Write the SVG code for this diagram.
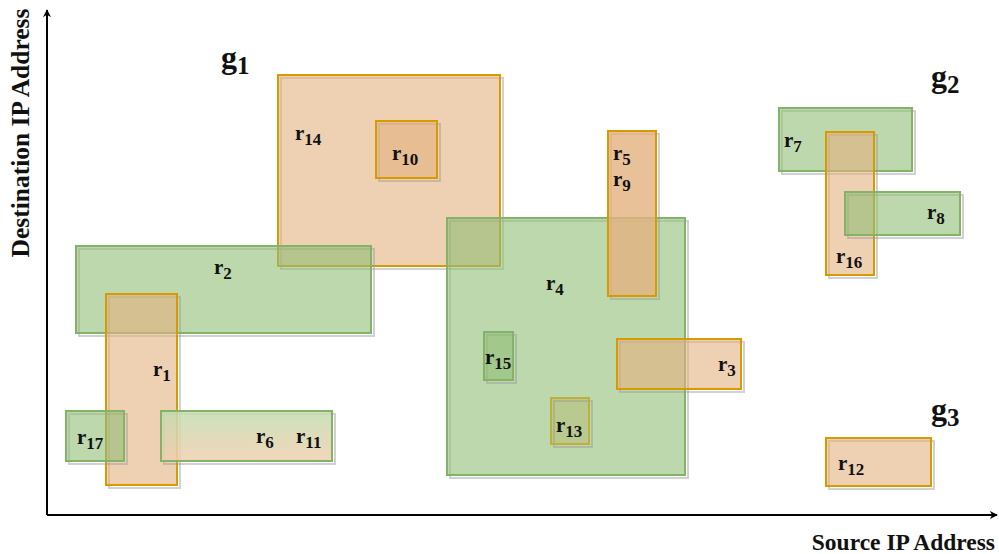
<svg xmlns="http://www.w3.org/2000/svg" width="999" height="554" viewBox="0 0 999 554">
<style>
text{font-family:"Liberation Serif","Times New Roman",serif;font-weight:bold;fill:#111}
.lbl{font-size:21px}
.sub{font-size:17px}
.g{font-size:32px}
.gs{font-size:25px}
.gr{fill:#91be75;fill-opacity:0.6;stroke:#82b366;stroke-width:2}
.or{fill:#e3b17f;fill-opacity:0.6;stroke:#d79b00;stroke-width:2}
.sh{fill:none;stroke:#999;stroke-opacity:0.45;stroke-width:2;transform:translate(3px,3px)}
.axis{stroke:#000;stroke-width:2;fill:none}
</style>
<defs>
<linearGradient id="gro" x1="0" y1="0" x2="0" y2="1">
<stop offset="0" stop-color="#c3dcb0"/>
<stop offset="1" stop-color="#f0cfae"/>
</linearGradient>
<marker id="ah" viewBox="0 0 10 10" refX="9" refY="5" markerWidth="8" markerHeight="8" markerUnits="userSpaceOnUse" orient="auto">
<path d="M0,0 L10,5 L0,10 L3,5 Z" fill="#000"/>
</marker>
</defs>
<g id="axes">
<line class="axis" x1="47" y1="515" x2="47" y2="10" marker-end="url(#ah)"/>
<line class="axis" x1="47" y1="515" x2="997" y2="515" marker-end="url(#ah)"/>
<text transform="translate(29,133) rotate(-90)" text-anchor="middle" font-size="25.5">Destination IP Address</text>
<text x="995" y="550" text-anchor="end" font-size="23.5">Source IP Address</text>
</g>
<g id="r14"><rect class="sh" x="278" y="75" width="222" height="191"/><rect class="or" x="278" y="75" width="222" height="191"/><text class="lbl" x="295" y="140">r<tspan class="sub" dy="5">14</tspan></text></g>
<g id="r10"><rect class="sh" x="376" y="121" width="61" height="57"/><rect class="or" x="376" y="121" width="61" height="57"/><text class="lbl" x="392" y="160">r<tspan class="sub" dy="5">10</tspan></text></g>
<g id="r2"><rect class="sh" x="76" y="246" width="295" height="87"/><rect class="gr" x="76" y="246" width="295" height="87"/><text class="lbl" x="214" y="274">r<tspan class="sub" dy="5">2</tspan></text></g>
<g id="r4"><rect class="sh" x="447" y="218" width="238" height="257"/><rect class="gr" x="447" y="218" width="238" height="257"/><text class="lbl" x="546" y="290">r<tspan class="sub" dy="5">4</tspan></text></g>
<g id="r5"><rect class="sh" x="608" y="131" width="48" height="165"/><rect class="or" x="608" y="131" width="48" height="165" style="fill-opacity:0.8"/><text class="lbl" x="613" y="160">r<tspan class="sub" dy="5">5</tspan></text></g>
<g id="r9"><text class="lbl" x="613" y="186">r<tspan class="sub" dy="5">9</tspan></text></g>
<g id="r1"><rect class="sh" x="106" y="294" width="71" height="191"/><rect class="or" x="106" y="294" width="71" height="191"/><text class="lbl" x="153" y="376">r<tspan class="sub" dy="5">1</tspan></text></g>
<g id="r17"><rect class="sh" x="66" y="411" width="58" height="50"/><rect class="gr" x="66" y="411" width="58" height="50"/><text class="lbl" x="77" y="444">r<tspan class="sub" dy="5">17</tspan></text></g>
<g id="r6"><rect class="sh" x="161" y="411" width="171" height="50"/><rect x="161" y="411" width="171" height="50" fill="url(#gro)" fill-opacity="0.85" stroke="#82b366" stroke-width="2"/><text class="lbl" x="256" y="443">r<tspan class="sub" dy="5">6</tspan></text></g>
<g id="r11"><text class="lbl" x="296" y="443">r<tspan class="sub" dy="5">11</tspan></text></g>
<g id="r15"><rect class="sh" x="484" y="332" width="29" height="48"/><rect class="gr" x="484" y="332" width="29" height="48"/><text class="lbl" x="485" y="364">r<tspan class="sub" dy="5">15</tspan></text></g>
<g id="r13"><rect class="sh" x="551" y="398" width="38" height="46"/><rect x="551" y="398" width="38" height="46" fill="#b0a040" fill-opacity="0.25" stroke="#bfb03a" stroke-width="2"/><text class="lbl" x="556" y="432">r<tspan class="sub" dy="5">13</tspan></text></g>
<g id="r3"><rect class="sh" x="617" y="339" width="124" height="50"/><rect class="or" x="617" y="339" width="124" height="50"/><text class="lbl" x="718" y="371">r<tspan class="sub" dy="5">3</tspan></text></g>
<g id="r7"><rect class="sh" x="779" y="108" width="133" height="63"/><rect class="gr" x="779" y="108" width="133" height="63"/><text class="lbl" x="784" y="147">r<tspan class="sub" dy="5">7</tspan></text></g>
<g id="r16"><rect class="sh" x="826" y="132" width="48" height="143"/><rect class="or" x="826" y="132" width="48" height="143"/><text class="lbl" x="836" y="263">r<tspan class="sub" dy="5">16</tspan></text></g>
<g id="r8"><rect class="sh" x="845" y="192" width="115" height="43"/><rect class="gr" x="845" y="192" width="115" height="43"/><text class="lbl" x="927" y="219">r<tspan class="sub" dy="5">8</tspan></text></g>
<g id="r12"><rect class="sh" x="826" y="438" width="105" height="48"/><rect class="or" x="826" y="438" width="105" height="48"/><text class="lbl" x="838" y="470">r<tspan class="sub" dy="5">12</tspan></text></g>
<g id="g1"><text class="g" x="221" y="68">g<tspan class="gs" dy="6">1</tspan></text></g>
<g id="g2"><text class="g" x="931" y="87">g<tspan class="gs" dy="6">2</tspan></text></g>
<g id="g3"><text class="g" x="931" y="420">g<tspan class="gs" dy="6">3</tspan></text></g>
</svg>
